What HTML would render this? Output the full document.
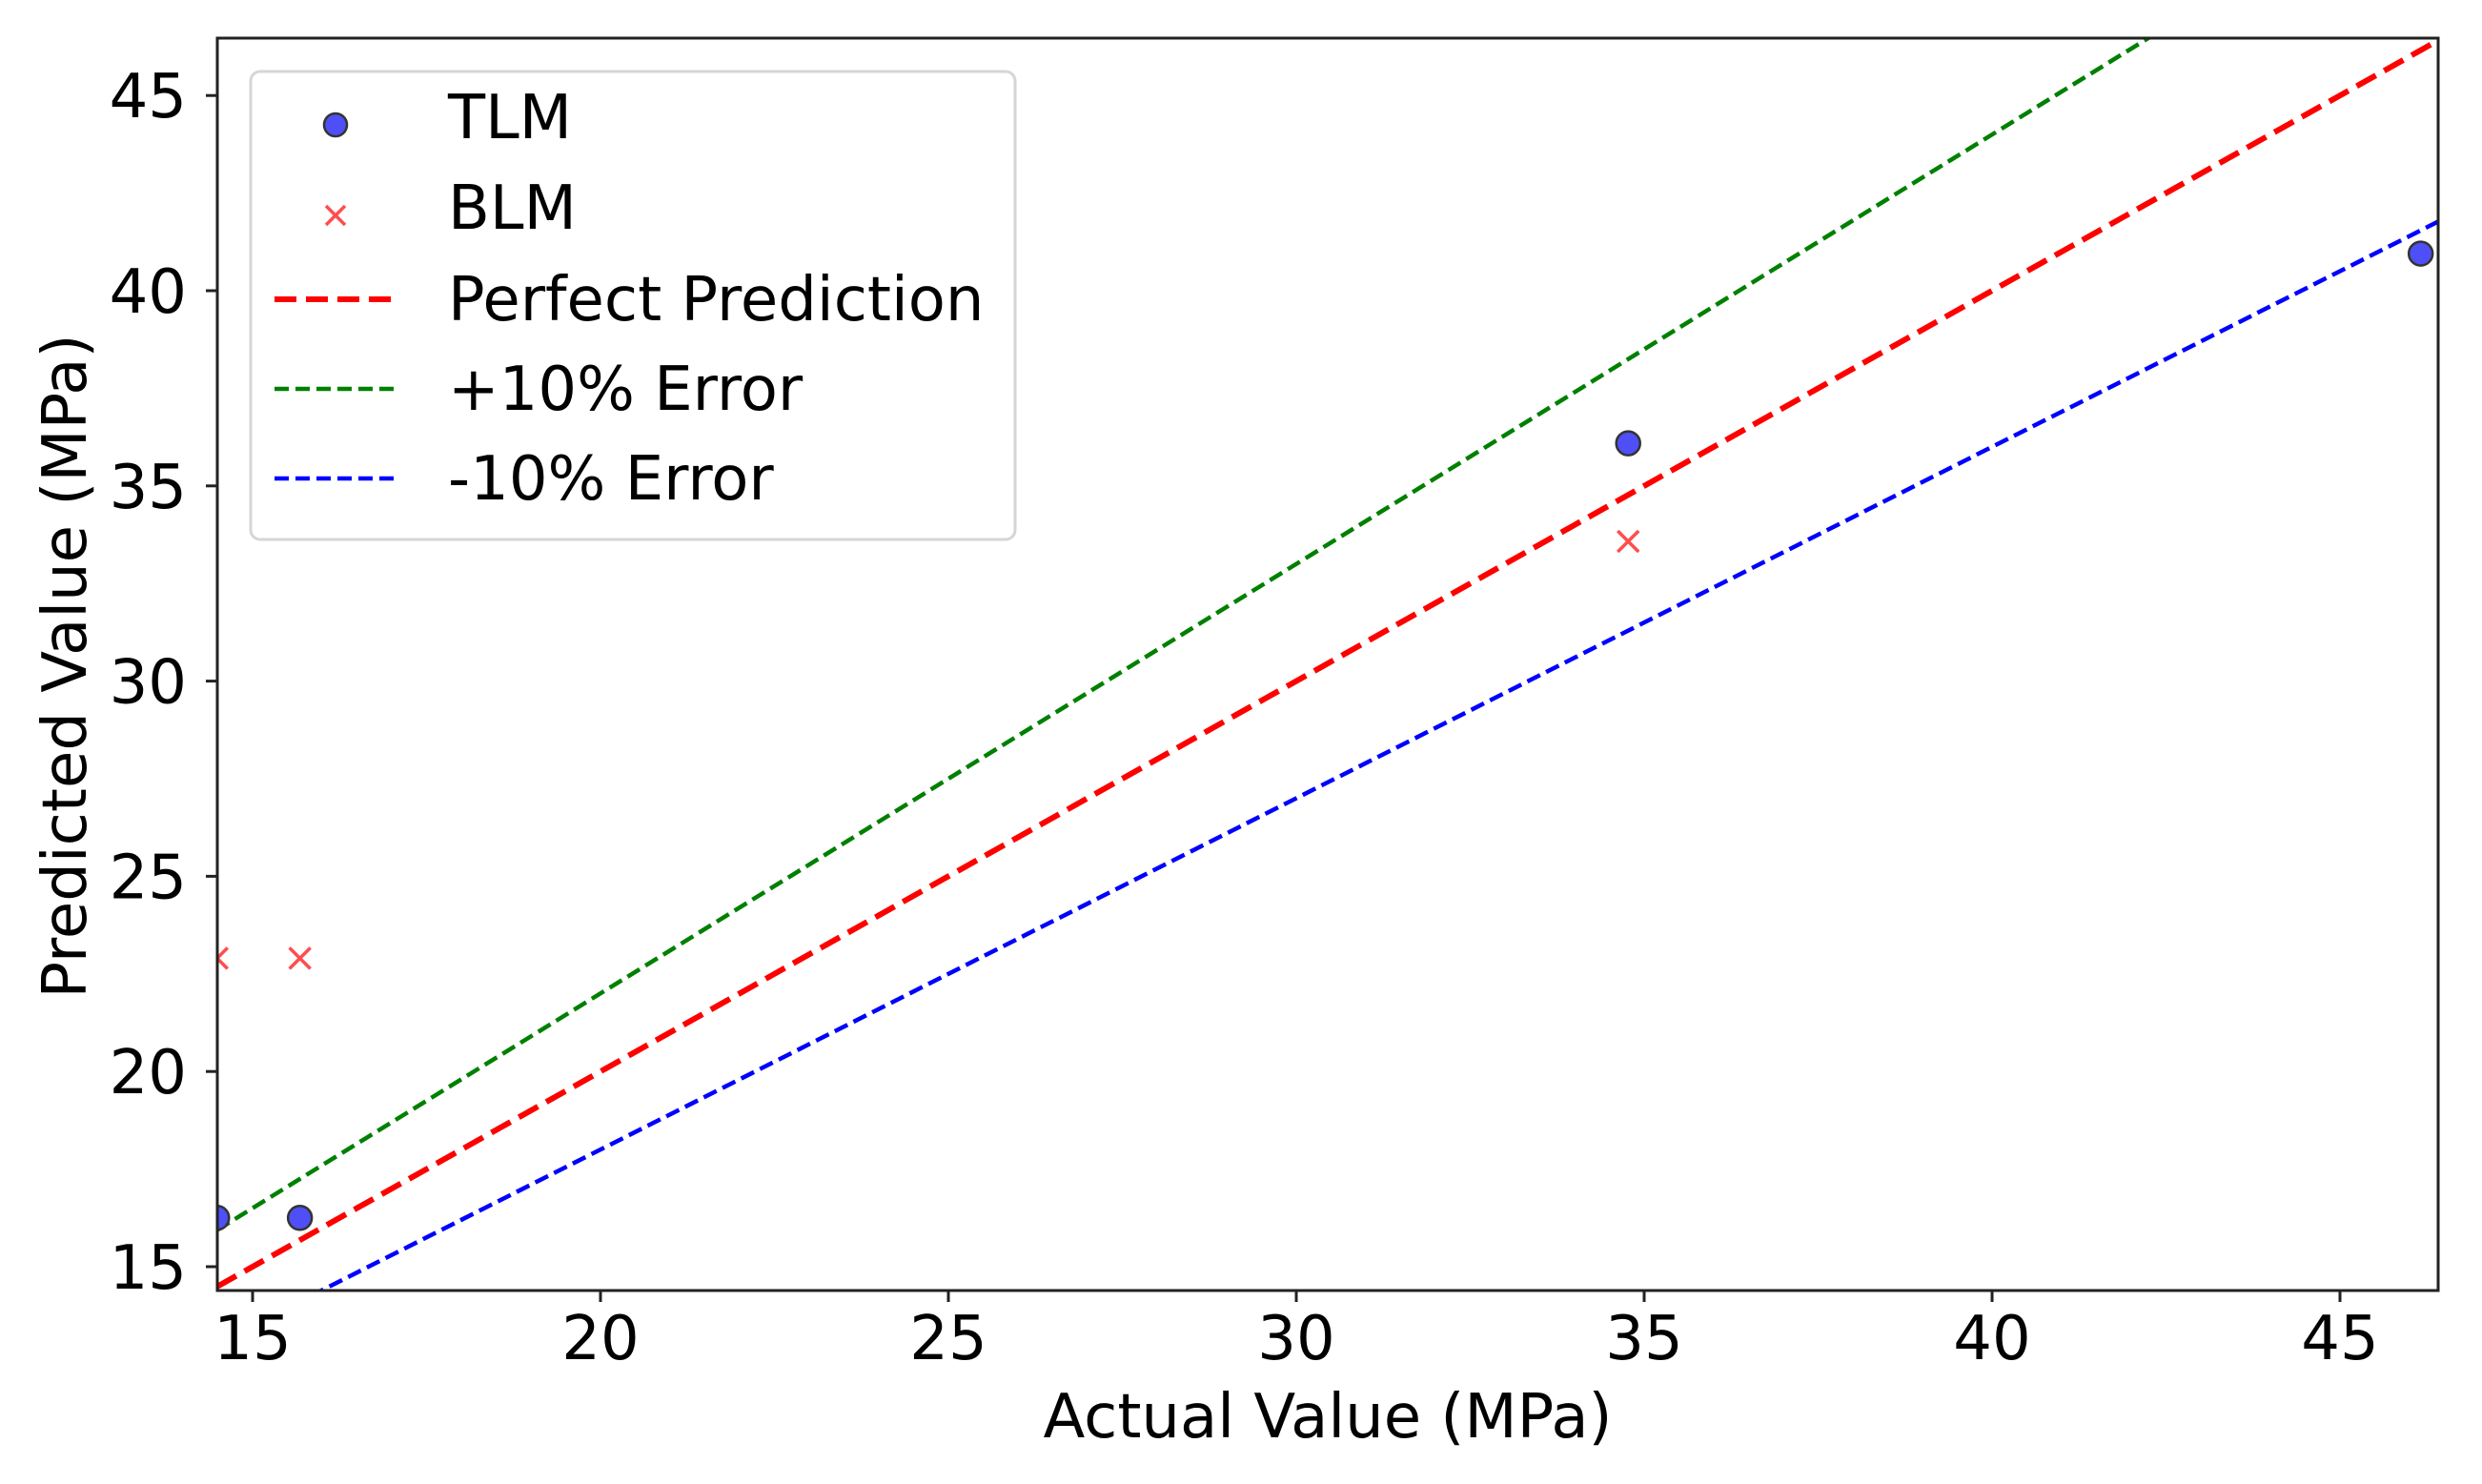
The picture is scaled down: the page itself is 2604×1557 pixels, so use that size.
<!DOCTYPE html>
<html><head><meta charset="utf-8"><style>
html,body{margin:0;padding:0;background:#fff;}
svg{display:block;font-family:"DejaVu Sans","Liberation Sans",sans-serif;}
</style></head><body>
<svg id="chart" width="2604" height="1557" viewBox="0 0 2604 1557">
<defs><clipPath id="plotclip"><rect x="228" y="40" width="2330" height="1314"/></clipPath></defs>
<rect x="0" y="0" width="2604" height="1557" fill="#fff"/>
<g id="lines" clip-path="url(#plotclip)"></g>
<g id="points" clip-path="url(#plotclip)"></g>
<rect x="228" y="40" width="2330" height="1314" fill="none" stroke="#222" stroke-width="3"/>
<g id="xticks"></g>
<g id="yticks"></g>
<text x="1393" y="1508" font-size="64" text-anchor="middle" fill="#000">Actual Value (MPa)</text>
<text transform="translate(90,699) rotate(-90)" font-size="64" text-anchor="middle" fill="#000">Predicted Value (MPa)</text>
<g>
<rect x="263" y="75" width="802" height="491" rx="10" fill="#fff" fill-opacity="0.85" stroke="#d6d6d6" stroke-width="3"/>
<g>
<ellipse cx="352" cy="131" rx="12" ry="12" fill="#4f4ff7" stroke="#333" stroke-width="2.5"/>
<text x="470" y="145" font-size="64" fill="#000">TLM</text></g>
<g>
<path d="M342 216 L362 236 M362 216 L342 236" stroke="#ff4d4d" stroke-width="3.5"/>
<text x="470" y="240" font-size="64" fill="#000">BLM</text></g>
<g>
<line x1="288" y1="314" x2="417" y2="314" stroke="#ff0000" stroke-width="6" stroke-dasharray="23,10"/>
<text x="470" y="336" font-size="64" fill="#000">Perfect Prediction</text></g>
<g>
<line x1="288" y1="408" x2="417" y2="408" stroke="#008000" stroke-width="4.5" stroke-dasharray="15,7"/>
<text x="470" y="430" font-size="64" fill="#000">+10% Error</text></g>
<g>
<line x1="288" y1="502" x2="417" y2="502" stroke="#0000ff" stroke-width="4.5" stroke-dasharray="15,7"/>
<text x="470" y="524" font-size="64" fill="#000">-10% Error</text></g>
</g>
</svg>
<script>
const actualTLM = [14.49, 15.68, 34.77, 46.16];
const predTLM = [16.25, 16.25, 36.09, 40.95];
const actualBLM = [14.49, 15.68, 34.77];
const predBLM = [22.9, 22.9, 33.58];
const xTicks = [15, 20, 25, 30, 35, 40, 45];
const yTicks = [15, 20, 25, 30, 35, 40, 45];
const lineRange = [14.49, 46.41];
const factors = [1.1, 1.0, 0.9];

const NS = "http://www.w3.org/2000/svg";
function X(v){ return 265 + (v - 15) * 73.0; }
function Y(v){ return 1329 - (v - 15) * 40.96; }
function mk(tag, attrs, parent){ const e=document.createElementNS(NS,tag); for(const k in attrs) e.setAttribute(k,attrs[k]); parent.appendChild(e); return e; }

const lines = document.getElementById('lines');
const styles = [
  {c:'#008000', w:4.5, d:'15,7', n:'plus-10-error-line'},
  {c:'#ff0000', w:6, d:'23,10', n:'perfect-prediction-line'},
  {c:'#0000ff', w:4.5, d:'15,7', n:'minus-10-error-line'}
];
factors.forEach((f,i)=>{
  const s = styles[i];
  const l = mk('line',{x1:X(lineRange[0]),y1:Y(lineRange[0]*f),x2:X(lineRange[1]),y2:Y(lineRange[1]*f),stroke:s.c,'stroke-width':s.w,'stroke-dasharray':s.d},lines);
  
  
});

const pts = document.getElementById('points');
actualTLM.forEach((a,i)=>{
  const c = mk('ellipse',{cx:X(a),cy:Y(predTLM[i]),rx:12.5,ry:12.5,fill:'#4f4ff7',stroke:'#333','stroke-width':2.5},pts);
  
  
});
actualBLM.forEach((a,i)=>{
  const x=X(a), y=Y(predBLM[i]);
  const p = mk('path',{d:`M${x-11} ${y-11} L${x+11} ${y+11} M${x+11} ${y-11} L${x-11} ${y+11}`,stroke:'#ff4d4d','stroke-width':3.5,fill:'none'},pts);
  
  
});

const xg = document.getElementById('xticks');
xTicks.forEach(t=>{
  const x = X(t);
  const tk = mk('line',{x1:x,y1:1354,x2:x,y2:1366,stroke:'#222','stroke-width':3},xg);
  
  
  const tx = mk('text',{x:x,y:1426,'font-size':64,'text-anchor':'middle',fill:'#000'},xg);
  tx.textContent = t;
  
  
});
const yg = document.getElementById('yticks');
yTicks.forEach(t=>{
  const y = Y(t);
  const tk = mk('line',{x1:216,y1:y,x2:228,y2:y,stroke:'#222','stroke-width':3},yg);
  
  
  const tx = mk('text',{x:196,y:y+23,'font-size':64,'text-anchor':'end',fill:'#000'},yg);
  tx.textContent = t;
  
  
});
</script>
</body></html>
